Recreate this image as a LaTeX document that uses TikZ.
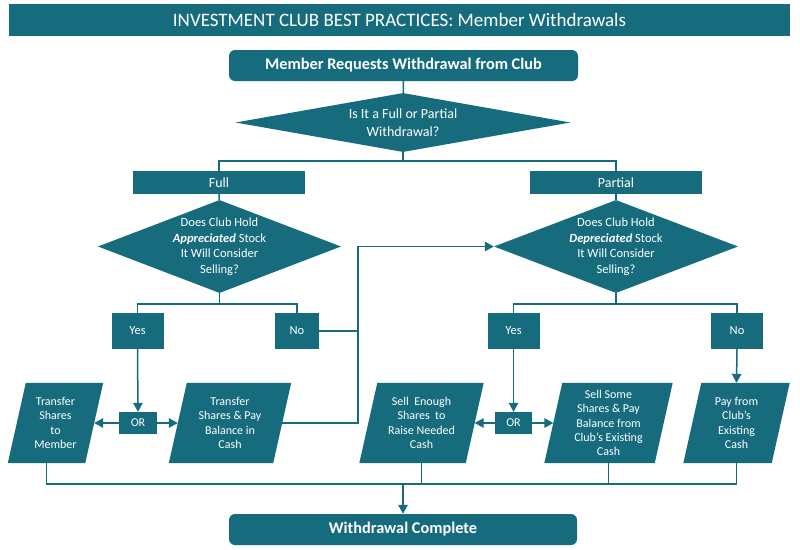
\documentclass[tikz,border=0pt]{standalone}
\usepackage{fontspec}
\setmainfont{Carlito}
\usetikzlibrary{shapes.geometric,arrows.meta}
\pgfdeclarelayer{background}
\pgfdeclarelayer{canvas}
\pgfsetlayers{canvas,background,main}
\definecolor{tl}{HTML}{166C7D}
\begin{document}
\begin{tikzpicture}[x=1pt,y=-1pt,
  every node/.style={text=white},
  box/.style={fill=tl, inner sep=0, align=center, font=\fontsize{12.5}{15}\selectfont},
  rbox/.style={fill=tl, inner sep=0, align=center, rounded corners=6pt, font=\bfseries\fontsize{16.3}{19}\selectfont},
  dia/.style={shape=diamond, fill=tl, inner sep=-2pt, align=center, font=\fontsize{12.5}{15.5}\selectfont},
  para/.style={inner sep=0, align=center, minimum height=80pt, font=\fontsize{12}{14.3}\selectfont},
  ln/.style={draw=tl, line width=1.5pt},
  arr/.style={ln, -{Triangle[length=9pt,width=9.5pt]}}
]
\useasboundingbox (0,0) rectangle (800,549);
\begin{pgfonlayer}{canvas}
\fill[white] (0,0) rectangle (800,549);
\end{pgfonlayer}

% title
\node[fill=tl, inner sep=0, minimum width=781pt, minimum height=32pt, font=\fontsize{19}{22}\selectfont] (title) at (399.5,20) {INVESTMENT CLUB BEST PRACTICES: Member Withdrawals};

% top
\node[rbox, minimum width=349pt, minimum height=31pt] (mreq) at (403.5,65.5) {Member Requests Withdrawal from Club};
\node[dia, minimum width=335pt, minimum height=59pt, shape aspect=5.68, font=\fontsize{14}{18}\selectfont] (d1) at (403,122.5) {Is It a Full or Partial\\Withdrawal?};

\node[box, minimum width=172pt, minimum height=23pt, font=\fontsize{14}{16}\selectfont] (full) at (219,182.5) {Full};
\node[box, minimum width=172pt, minimum height=23pt, font=\fontsize{14}{16}\selectfont] (partial) at (616,182.5) {Partial};

\node[dia, minimum width=243pt, minimum height=93pt, shape aspect=2.61] (d2) at (219.5,246.5) {Does Club Hold\\\textbf{\textit{Appreciated}} Stock\\It Will Consider\\Selling?};
\node[dia, minimum width=244pt, minimum height=93pt, shape aspect=2.62] (d3) at (616,246.5) {Does Club Hold\\\textbf{\textit{Depreciated}} Stock\\It Will Consider\\Selling?};

\node[box, minimum width=52pt, minimum height=36pt] (yes1) at (137.5,331) {Yes};
\node[box, minimum width=44pt, minimum height=36pt] (no1) at (297,331) {No};
\node[box, minimum width=52pt, minimum height=36pt] (yes2) at (513.5,331) {Yes};
\node[box, minimum width=52pt, minimum height=36pt] (no2) at (737,331) {No};

\node[box, minimum width=38pt, minimum height=22pt, font=\fontsize{12}{14}\selectfont] (or1) at (138,423) {OR};
\node[box, minimum width=37pt, minimum height=22pt, font=\fontsize{12}{14}\selectfont] (or2) at (513.5,423) {OR};

% parallelograms
\node[para, minimum width=77pt] (p1) at (55.5,423) {Transfer\\Shares\\to\\Member};
\node[para, minimum width=104pt] (p2) at (230,423) {Transfer\\Shares \& Pay\\Balance in\\Cash};
\node[para, minimum width=106pt] (p3) at (421.5,423) {Sell\ \ Enough\\Shares\ \ to\\Raise Needed\\Cash};
\node[para, minimum width=110pt] (p4) at (608.5,423) {Sell Some\\Shares \& Pay\\Balance from\\Club’s Existing\\Cash};
\node[para, minimum width=88pt] (p5) at (736.5,423) {Pay from\\Club’s\\Existing\\Cash};

\begin{pgfonlayer}{background}
\foreach \n in {p1,p2,p3,p4,p5}{
  \fill[tl] ([xshift=-9pt]\n.south west) -- ([xshift=-9pt]\n.south east) -- ([xshift=9pt]\n.north east) -- ([xshift=9pt]\n.north west) -- cycle;
}
\end{pgfonlayer}

\node[rbox, minimum width=348pt, minimum height=31pt] (done) at (403,529.5) {Withdrawal Complete};

% connectors
\coordinate (j1) at (403,161);
\coordinate (j2) at (219.5,304);
\coordinate (j3) at (616,304);
\coordinate (v) at (358,331);
\coordinate (b1) at (46.5,484);
\coordinate (b5) at (736.5,484);

\draw[ln] (mreq) -- (d1);
\draw[ln] (d1.south) -- (j1);
\draw[ln] (j1) -| (full.north);
\draw[ln] (j1) -| (partial.north);
\draw[ln] (full) -- (d2);
\draw[ln] (partial) -- (d3);
\draw[ln] (d2.south) -- (j2);
\draw[ln] (j2) -| (yes1.north);
\draw[ln] (j2) -| (no1.north);
\draw[ln] (d3.south) -- (j3);
\draw[ln] (j3) -| (yes2.north);
\draw[ln] (j3) -| (no2.north);

\draw[arr] (yes1.south) -- (or1.north);
\draw[arr] (or1.west) -- (p1.east);
\draw[arr] (or1.east) -- (p2.west);
\draw[arr] (yes2.south) -- (or2.north);
\draw[arr] (or2.west) -- (p3.east);
\draw[arr] (or2.east) -- (p4.west);
\draw[arr] (no2.south) -- (p5.north);

\draw[arr] (p2.east) -| (v) |- (d3.west);
\draw[ln] (no1.east) -- (v);

\draw[ln] ([xshift=-9pt]p1.south) -- (b1) -- (b5) -- (p5.south);
\draw[ln] (p3.south) -- (p3.south |- b1);
\draw[ln] (p4.south) -- (p4.south |- b1);
\draw[arr] (done.north |- b1) -- (done.north);
\end{tikzpicture}
\end{document}
